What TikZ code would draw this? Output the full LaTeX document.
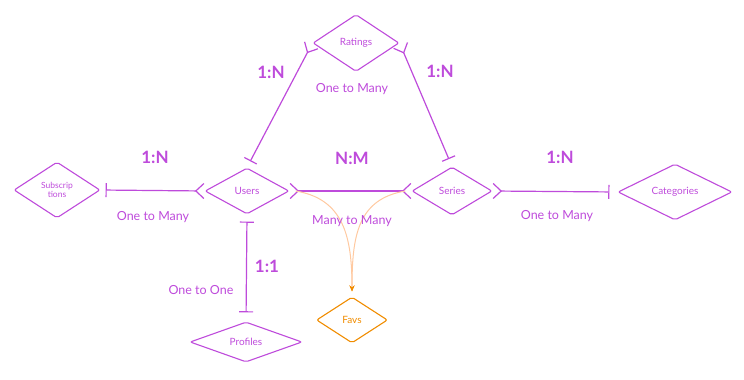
\documentclass[tikz,border=0pt]{standalone}
\usepackage{fontspec}
\setmainfont{Lato}
\usetikzlibrary{shapes.geometric,arrows.meta}

\definecolor{erviolet}{HTML}{BE4BDB}
\definecolor{favorange}{HTML}{F08C00}
\definecolor{fadeorange}{HTML}{FFC9A0}

\tikzset{
  entity/.style={diamond, draw=erviolet, text=erviolet, line width=1.1pt,
    inner sep=0pt, rounded corners=2pt, align=center,
    font=\fontsize{10}{10}\selectfont},
  rel/.style={draw=erviolet, line width=1.2pt},
  card/.style={text=erviolet, font=\fontsize{17}{18}\selectfont\bfseries},
  note/.style={text=erviolet, font=\fontsize{12.5}{13}\selectfont},
  onebar/.tip={Bar[width=14pt, line width=1.2pt]},
  crow/.tip={Straight Barb[reversed, length=8pt, width=15pt, line width=1.2pt]},
}

\begin{document}
\begin{tikzpicture}[x=1pt,y=-1pt]
\useasboundingbox (0,0) rectangle (744,380);

% entities
\node[entity, minimum width=86, minimum height=56,
      font=\fontsize{8.5}{9}\selectfont] (subs) at (57,190) {Subscrip\\tions};
\node[entity, minimum width=84, minimum height=46] (users) at (247,191) {Users};
\node[entity, minimum width=86, minimum height=57] (ratings) at (356,43) {Ratings};
\node[entity, minimum width=80, minimum height=48] (series) at (452,191) {Series};
\node[entity, minimum width=114, minimum height=48] (cats) at (675,192) {Categories};
\node[entity, minimum width=112, minimum height=40] (profiles) at (246,342) {Profiles};
\node[entity, draw=favorange, text=favorange,
      minimum width=71, minimum height=46] (favs) at (352,320) {Favs};

% relations
\draw[rel, {onebar}-{crow}, shorten <=5pt] (subs.east) -- (users.west);
\draw[rel, {onebar}-{crow}, shorten <=7pt, shorten >=2pt] (users.north) -- (ratings.west);
\draw[rel, {crow}-{onebar}, shorten <=2pt, shorten >=8pt] (ratings.east) -- (series.north);
\draw[rel, {crow}-{onebar}, shorten >=8pt] (series.east) -- (cats.west);
\draw[rel, {onebar}-{onebar}, shorten <=7pt, shorten >=9pt] (users.south) -- (profiles.north);
\draw[rel, line width=2.4pt, {crow}-{crow}] (users.east)
  -- coordinate[pos=0.05] (mmleft) coordinate[pos=0.95] (mmright) (series.west);

% many-to-many table
\draw[fadeorange, line width=1pt, -{Stealth[length=6pt, width=5pt, favorange]}, shorten >=5pt]
  (mmleft) .. controls +(48,8) and +(0,-60) .. (favs.north);
\draw[fadeorange, line width=1pt, -{Stealth[length=6pt, width=5pt, favorange]}, shorten >=5pt]
  (mmright) .. controls +(-48,8) and +(0,-60) .. (favs.north);

% cardinalities
\node[card] (c1) at (155,157) {1:N};
\node[note] (n1) at (153,217) {One to Many};
\node[card] (c2) at (271,72) {1:N};
\node[note] (n2) at (352,89) {One to Many};
\node[card] (c3) at (440,71) {1:N};
\node[card] (c4) at (352,158) {N:M};
\node[note] (n4) at (352,221) {Many to Many};
\node[card] (c5) at (560,157) {1:N};
\node[note] (n5) at (557,216) {One to Many};
\node[card] (c6) at (267,266) {1:1};
\node[note] (n6) at (201,290) {One to One};

\end{tikzpicture}
\end{document}
